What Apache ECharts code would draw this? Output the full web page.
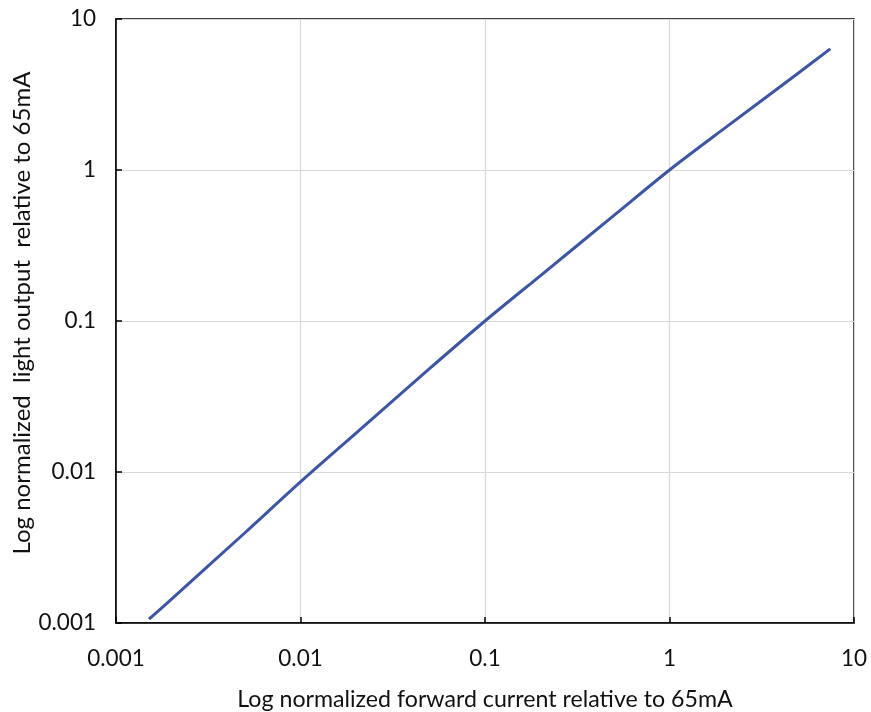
<!DOCTYPE html>
<html>
<head>
<meta charset="utf-8">
<script src="https://cdn.jsdelivr.net/npm/echarts@6/dist/echarts.min.js"></script>
<style>html,body{margin:0;padding:0;background:#fff}#c{width:871px;height:712px}</style>
</head>
<body>
<div id="c"></div>
<script>
const currentX = [0.00151, 0.002, 0.005, 0.01, 0.02, 0.05, 0.1, 0.2, 0.5, 1, 2, 5, 7.44];
const lightY   = [0.00106, 0.00144, 0.00396, 0.0086, 0.0181, 0.0483, 0.1, 0.2, 0.5, 1, 1.9, 4.39, 6.34];
const xTitle = 'Log normalized forward current relative to 65mA';
const yTitle = 'Log normalized  light output  relative to 65mA';

const fmt = v => String(+(+v).toPrecision(3));
const font = 'Lato, "Open Sans", sans-serif';
const chart = echarts.init(document.getElementById('c'), null, {renderer: 'canvas'});
chart.setOption({
  animation: false,
  grid: {left: 116, right: 17, top: 19, bottom: 89, outerBoundsMode: 'none', containLabel: false,
         show: true, borderColor: '#000', borderWidth: 1.5, backgroundColor: 'transparent'},
  xAxis: {
    type: 'log', logBase: 10, min: 0.001, max: 10,
    name: xTitle, nameLocation: 'middle', nameGap: 65, nameMoveOverlap: false,
    nameTextStyle: {fontFamily: font, fontSize: 23.2, color: '#111'},
    axisLine: {show: true, lineStyle: {color: '#000', width: 1.5}},
    axisTick: {show: true, inside: true, length: 6, lineStyle: {color: '#000', width: 1.5}},
    minorTick: {show: false},
    splitLine: {show: true, lineStyle: {color: '#d9d9d9', width: 1.2}},
    axisLabel: {formatter: fmt, fontFamily: font, fontSize: 22.5, color: '#111', margin: 24}
  },
  yAxis: {
    type: 'log', logBase: 10, min: 0.001, max: 10,
    name: yTitle, nameLocation: 'middle', nameGap: 82, nameRotate: 90, nameMoveOverlap: false,
    nameTextStyle: {fontFamily: font, fontSize: 24, color: '#111', padding: [0, 0, 0, 16]},
    axisLine: {show: true, lineStyle: {color: '#000', width: 1.5}},
    axisTick: {show: true, inside: true, length: 6, lineStyle: {color: '#000', width: 1.5}},
    minorTick: {show: false},
    splitLine: {show: true, lineStyle: {color: '#d9d9d9', width: 1.2}},
    axisLabel: {formatter: fmt, fontFamily: font, fontSize: 22.5, color: '#111', margin: 20}
  },
  series: [{
    type: 'line',
    data: currentX.map((x, i) => [x, lightY[i]]),
    showSymbol: false,
    smooth: 0.3,
    lineStyle: {color: '#3c55a5', width: 3},
    itemStyle: {color: '#3c55a5'}
  }]
});
</script>
</body>
</html>
